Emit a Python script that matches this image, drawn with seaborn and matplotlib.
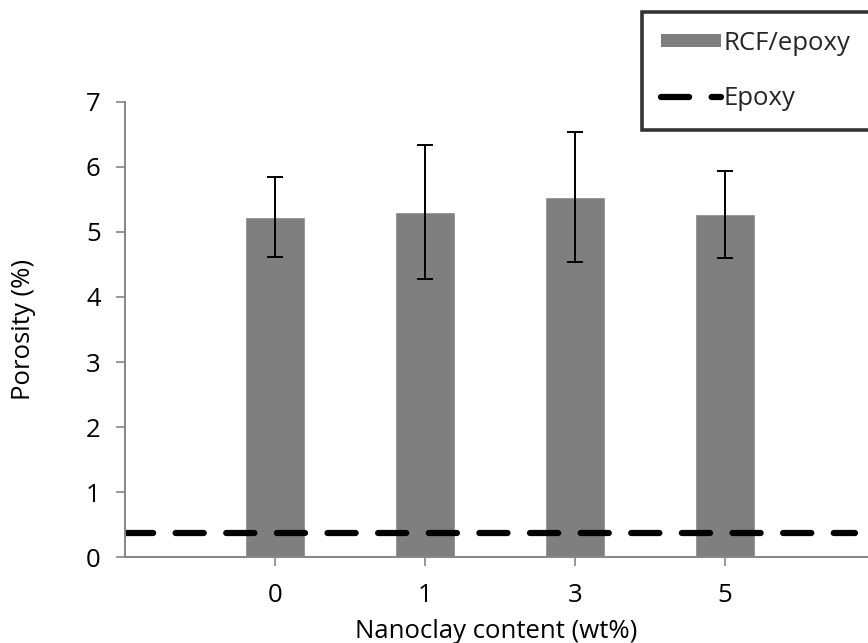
import matplotlib
matplotlib.use("Agg")
import matplotlib.pyplot as plt
import seaborn as sns
import numpy as np
import pandas as pd
from matplotlib.patches import Patch
from matplotlib.lines import Line2D

categories = ["0", "1", "3", "5"]
porosity = [5.23, 5.30, 5.54, 5.27]
errors = [0.62, 1.03, 1.00, 0.67]
epoxy_porosity = 0.37
y_ticks = [0, 1, 2, 3, 4, 5, 6, 7]

sns.set_theme(style="white")
plt.rcParams['font.family'] = ['Open Sans', 'DejaVu Sans']

FS = 18.5
fig = plt.figure(figsize=(8.68, 6.43), dpi=100)
ax = fig.add_axes([125/868, 1-557.3/643, 1-125/868, (557.3-101.7)/643])

df = pd.DataFrame({"content": categories, "porosity": porosity})
sns.barplot(data=df, x="content", y="porosity", color="#7f7f7f", saturation=1,
            width=0.4, ax=ax, errorbar=None)
ax.errorbar(np.arange(len(categories)), porosity, yerr=errors, fmt="none",
            ecolor="black", elinewidth=1.4, capsize=5.5, capthick=1.4)
ax.axhline(epoxy_porosity, xmin=0, xmax=0.982, color="black", lw=4.5,
           ls=(0, (4.5, 3.6)), dash_capstyle="round")

ax.set_xlim(-1, 3.953)
ax.set_ylim(0, 7)
ax.set_yticks(y_ticks)
ax.set_xlabel("Nanoclay content (wt%)", fontsize=FS, color="black", labelpad=8)
ax.set_ylabel("Porosity (%)", fontsize=FS, color="black", labelpad=36)
ax.tick_params(axis="both", labelsize=FS, colors="#868686", labelcolor="black",
               length=6.5, width=1.2, direction="out", left=True, bottom=True)
ax.tick_params(axis="x", pad=12)
ax.tick_params(axis="y", pad=11)
for s in ["top", "right"]:
    ax.spines[s].set_visible(False)
for s in ["left", "bottom"]:
    ax.spines[s].set_color("#868686")
    ax.spines[s].set_linewidth(1.4)

handles = [Patch(facecolor="#7f7f7f", edgecolor="none"),
           Line2D([0], [0], color="black", lw=4.5, ls=(0, (4.5, 3.6)), dash_capstyle="round")]
leg = fig.legend(handles, ["RCF/epoxy", "Epoxy"], loc="upper left",
                 bbox_to_anchor=(641.7/868, 1-128/643, 240/868, 116.3/643),
                 mode="expand", borderaxespad=0, fontsize=FS,
                 frameon=True, fancybox=False, handlelength=2.35, handleheight=0.4,
                 handletextpad=0.1, labelspacing=1.15, borderpad=0.75)
leg.get_frame().set_edgecolor("black")
leg.get_frame().set_linewidth(2.6)

fig.savefig("out.png", dpi=100)
